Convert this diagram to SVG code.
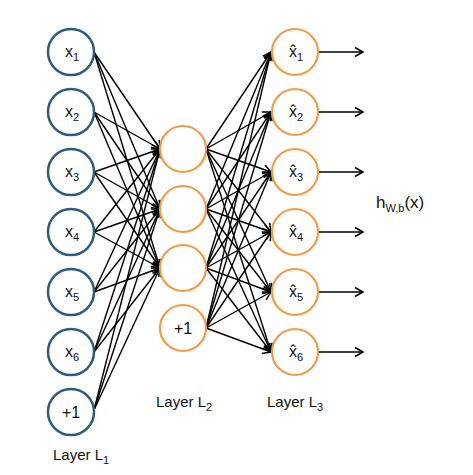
<svg xmlns="http://www.w3.org/2000/svg" width="473" height="475" viewBox="0 0 473 475">
<defs>
<marker id="arr" markerUnits="userSpaceOnUse" markerWidth="12" markerHeight="12" refX="8" refY="5" orient="auto" overflow="visible">
<path d="M0,0.5 L8,5 L0,9.5" fill="none" stroke="#000" stroke-width="1.5"/>
</marker>
<style>
.in{fill:#fff;stroke:#2b5b7e;stroke-width:2.5}
.hid{fill:#fff;stroke:#f59b47;stroke-width:2.2}
.e{stroke:#000;stroke-width:1.4;fill:none;marker-end:url(#arr)}
text{font-family:"Liberation Sans",Arial,sans-serif;fill:#111}
.lb{font-size:16px}
.sb{font-size:11px}
.ly{font-size:15px}
</style>
</defs>
<rect width="473" height="475" fill="#fff"/>
<g id="connectors">
<path class="e" d="M94,52 L160,149"/><path class="e" d="M94,52 L160,209"/><path class="e" d="M94,52 L160,268"/>
<path class="e" d="M94,112 L160,149"/><path class="e" d="M94,112 L160,209"/><path class="e" d="M94,112 L160,268"/>
<path class="e" d="M94,172 L160,149"/><path class="e" d="M94,172 L160,209"/><path class="e" d="M94,172 L160,268"/>
<path class="e" d="M94,232 L160,149"/><path class="e" d="M94,232 L160,209"/><path class="e" d="M94,232 L160,268"/>
<path class="e" d="M94,292 L160,149"/><path class="e" d="M94,292 L160,209"/><path class="e" d="M94,292 L160,268"/>
<path class="e" d="M94,352 L160,149"/><path class="e" d="M94,352 L160,209"/><path class="e" d="M94,352 L160,268"/>
<path class="e" d="M94,410 L160,149"/><path class="e" d="M94,410 L160,209"/><path class="e" d="M94,410 L160,268"/>
<path class="e" d="M206,149 L271,52"/><path class="e" d="M206,149 L271,112"/><path class="e" d="M206,149 L271,172"/><path class="e" d="M206,149 L271,232"/><path class="e" d="M206,149 L271,292"/><path class="e" d="M206,149 L271,352"/>
<path class="e" d="M206,209 L271,52"/><path class="e" d="M206,209 L271,112"/><path class="e" d="M206,209 L271,172"/><path class="e" d="M206,209 L271,232"/><path class="e" d="M206,209 L271,292"/><path class="e" d="M206,209 L271,352"/>
<path class="e" d="M206,268 L271,52"/><path class="e" d="M206,268 L271,112"/><path class="e" d="M206,268 L271,172"/><path class="e" d="M206,268 L271,232"/><path class="e" d="M206,268 L271,292"/><path class="e" d="M206,268 L271,352"/>
<path class="e" d="M206,328 L271,52"/><path class="e" d="M206,328 L271,112"/><path class="e" d="M206,328 L271,172"/><path class="e" d="M206,328 L271,232"/><path class="e" d="M206,328 L271,292"/><path class="e" d="M206,328 L271,352"/>
<path class="e" d="M318,52 L363,52"/><path class="e" d="M318,112 L363,112"/><path class="e" d="M318,172 L363,172"/><path class="e" d="M318,232 L363,232"/><path class="e" d="M318,292 L363,292"/><path class="e" d="M318,352 L363,352"/>
</g>
<g id="x1"><circle class="in" cx="71" cy="52" r="23"/><text class="lb" x="65" y="57">x<tspan class="sb" dy="4">1</tspan></text></g>
<g id="x2"><circle class="in" cx="71" cy="112" r="23"/><text class="lb" x="65" y="117">x<tspan class="sb" dy="4">2</tspan></text></g>
<g id="x3"><circle class="in" cx="71" cy="172" r="23"/><text class="lb" x="65" y="177">x<tspan class="sb" dy="4">3</tspan></text></g>
<g id="x4"><circle class="in" cx="71" cy="232" r="23"/><text class="lb" x="65" y="237">x<tspan class="sb" dy="4">4</tspan></text></g>
<g id="x5"><circle class="in" cx="71" cy="292" r="23"/><text class="lb" x="65" y="297">x<tspan class="sb" dy="4">5</tspan></text></g>
<g id="x6"><circle class="in" cx="71" cy="352" r="23"/><text class="lb" x="65" y="357">x<tspan class="sb" dy="4">6</tspan></text></g>
<g id="b1"><circle class="in" cx="71" cy="412" r="23"/><text class="lb" x="71" y="418" text-anchor="middle">+1</text></g>
<g id="h1"><circle class="hid" cx="183" cy="149" r="23"/></g>
<g id="h2"><circle class="hid" cx="183" cy="209" r="23"/></g>
<g id="h3"><circle class="hid" cx="183" cy="268" r="23"/></g>
<g id="b2"><circle class="hid" cx="183" cy="328" r="23"/><text class="lb" x="183" y="334" text-anchor="middle">+1</text></g>
<g id="y1"><circle class="hid" cx="295" cy="52" r="23"/><text class="lb" x="289" y="57">x&#770;<tspan class="sb" dy="4">1</tspan></text></g>
<g id="y2"><circle class="hid" cx="295" cy="112" r="23"/><text class="lb" x="289" y="117">x&#770;<tspan class="sb" dy="4">2</tspan></text></g>
<g id="y3"><circle class="hid" cx="295" cy="172" r="23"/><text class="lb" x="289" y="177">x&#770;<tspan class="sb" dy="4">3</tspan></text></g>
<g id="y4"><circle class="hid" cx="295" cy="232" r="23"/><text class="lb" x="289" y="237">x&#770;<tspan class="sb" dy="4">4</tspan></text></g>
<g id="y5"><circle class="hid" cx="295" cy="292" r="23"/><text class="lb" x="289" y="297">x&#770;<tspan class="sb" dy="4">5</tspan></text></g>
<g id="y6"><circle class="hid" cx="295" cy="352" r="23"/><text class="lb" x="289" y="357">x&#770;<tspan class="sb" dy="4">6</tspan></text></g>
<g id="hwb"><text x="376" y="208" style="font-size:17px">h<tspan class="sb" dy="4">W,b</tspan><tspan dy="-4">(x)</tspan></text></g>
<g id="labels">
<text class="ly" x="53" y="460">Layer L<tspan class="sb" dy="4">1</tspan></text>
<text class="ly" x="156" y="407">Layer L<tspan class="sb" dy="4">2</tspan></text>
<text class="ly" x="267" y="407">Layer L<tspan class="sb" dy="4">3</tspan></text>
</g>
</svg>
